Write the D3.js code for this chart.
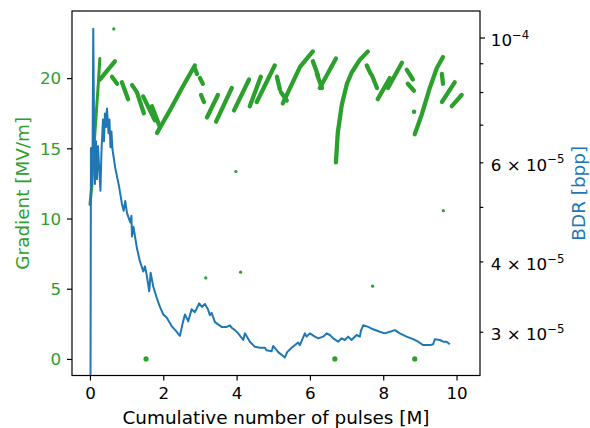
<!DOCTYPE html>
<html>
<head>
<meta charset="utf-8">
<script src="https://cdn.jsdelivr.net/npm/d3@7"></script>
<style>
  body { margin: 0; background: #fff; }
  text { font-family: "DejaVu Sans", sans-serif; }
</style>
</head>
<body>
<svg id="chart" width="590" height="428"></svg>
<script>
var gradStrokes = [
  [[0.0,11.0],[0.05,12.3],[0.09,14.4],[0.18,17.8],[0.23,19.7],[0.27,21.4]],
  [[0.27,19.9],[0.46,20.5],[0.68,21.2]],
  [[0.60,20.1],[0.74,19.6]],
  [[0.87,19.7],[1.04,18.5]],
  [[1.15,19.5],[1.28,19.0],[1.47,17.5]],
  [[1.45,18.7],[1.77,17.0]],
  [[1.69,18.0],[1.91,16.5]],
  [[1.83,16.1],[2.18,17.7],[2.51,19.3],[2.86,20.9]],
  [[2.86,20.7],[2.92,20.3]],
  [[3.00,20.0],[3.08,19.6]],
  [[3.03,18.8],[3.11,18.3]],
  [[3.19,17.2],[3.49,18.8]],
  [[3.44,16.9],[3.87,19.3]],
  [[3.93,17.7],[4.34,19.9]],
  [[4.36,18.0],[4.66,20.1]],
  [[4.55,18.3],[5.04,20.9]],
  [[5.10,20.1],[5.18,19.2]],
  [[5.21,19.0],[5.37,18.4]],
  [[5.26,18.2],[5.73,20.8],[6.08,21.9]],
  [[6.08,21.2],[6.22,20.2]],
  [[6.19,20.3],[6.33,19.3]],
  [[6.27,19.3],[6.71,21.4]],
  [[6.71,14.0],[6.76,16.1],[6.87,18.1],[7.01,19.6],[7.14,20.4],[7.36,21.3],[7.58,21.9]],
  [[7.55,20.9],[7.66,20.3]],
  [[7.69,20.2],[7.83,19.3]],
  [[7.85,18.5],[8.18,20.0]],
  [[8.13,19.3],[8.51,21.1]],
  [[8.64,20.6],[8.81,19.9]],
  [[8.67,19.6],[8.84,19.1]],
  [[8.86,16.0],[9.05,17.4],[9.27,19.3],[9.46,20.7],[9.63,21.5]],
  [[9.60,20.3],[9.63,19.6]],
  [[9.60,18.3],[9.95,19.7]],
  [[9.87,18.0],[10.14,18.8]]
];
var gradOutX = [0.65, 3.16, 3.98, 4.11, 7.71, 8.84, 9.64];
var gradOutY = [23.5, 5.77, 13.35, 6.18, 5.18, 17.6, 10.56];
var gradZeroX = [1.53, 6.68, 8.86];
var gradZeroY = [0, 0, 0];

// breakdown rate line
var bdrX = [0.014,0.027,0.055,0.071,0.090,0.117,0.136,0.164,0.191,0.218,0.259,0.286,0.314,0.355,0.382,0.409,
  0.436,0.464,0.505,0.532,0.559,0.586,0.614,0.690,0.791,0.873,0.919,0.963,1.009,1.099,1.132,1.145,1.186,
  1.282,1.364,1.454,1.500,1.546,1.617,1.655,1.726,1.819,1.909,1.999,2.092,2.228,2.345,2.454,2.536,2.591,
  2.681,2.773,2.863,2.981,3.054,3.136,3.218,3.272,3.319,3.409,3.592,3.728,3.818,3.865,3.954,4.044,4.181,
  4.227,4.363,4.500,4.636,4.772,4.819,4.955,4.999,5.135,5.318,5.380,5.500,5.680,5.727,5.863,5.909,5.999,
  6.136,6.226,6.362,6.455,6.545,6.635,6.771,6.864,6.954,7.044,7.137,7.273,7.363,7.390,7.453,7.589,7.726,
  7.908,8.045,8.181,8.317,8.454,8.637,8.817,8.953,9.089,9.272,9.362,9.408,9.545,9.635,9.727,9.817];
var bdrY = [2.3e-5,6.36e-5,5.45e-5,6.28e-5,1.036e-4,6.28e-5,5.49e-5,6.54e-5,5.60e-5,6.41e-5,5.74e-5,5.34e-5,6.28e-5,
  7.15e-5,6.54e-5,7.33e-5,6.93e-5,7.48e-5,6.76e-5,7.15e-5,6.38e-5,6.81e-5,6.33e-5,5.86e-5,5.45e-5,5.06e-5,
  4.92e-5,5.12e-5,4.88e-5,4.69e-5,4.82e-5,4.43e-5,4.61e-5,4.22e-5,4.00e-5,3.84e-5,3.92e-5,3.79e-5,3.54e-5,
  3.82e-5,3.61e-5,3.45e-5,3.32e-5,3.22e-5,3.18e-5,3.07e-5,3.01e-5,2.95e-5,3.12e-5,3.22e-5,3.13e-5,3.29e-5,
  3.25e-5,3.37e-5,3.32e-5,3.36e-5,3.29e-5,3.21e-5,3.24e-5,3.12e-5,3.06e-5,3.06e-5,3.08e-5,3.05e-5,3.02e-5,
  2.98e-5,2.90e-5,2.98e-5,2.88e-5,2.82e-5,2.81e-5,2.81e-5,2.78e-5,2.77e-5,2.83e-5,2.76e-5,2.70e-5,2.76e-5,
  2.81e-5,2.87e-5,2.84e-5,2.98e-5,2.94e-5,2.98e-5,2.94e-5,2.92e-5,2.94e-5,2.98e-5,2.96e-5,2.92e-5,2.88e-5,
  2.92e-5,2.90e-5,2.94e-5,2.90e-5,2.96e-5,2.94e-5,3.01e-5,3.08e-5,3.06e-5,3.03e-5,3.00e-5,2.98e-5,3.00e-5,
  3.02e-5,2.98e-5,2.94e-5,2.91e-5,2.88e-5,2.84e-5,2.84e-5,2.85e-5,2.91e-5,2.90e-5,2.88e-5,2.88e-5,2.85e-5];

var xTicks = [0, 2, 4, 6, 8, 10];
var gradTicks = [0, 5, 10, 15, 20];
var bdrTicks = [3e-5, 4e-5, 5e-5, 6e-5, 7e-5, 8e-5, 9e-5, 1e-4];
var bdrTickBase = ["3 \u00d7 10", "4 \u00d7 10", "", "6 \u00d7 10", "", "", "", "10"];
var bdrTickExp = ["\u22125", "\u22125", "", "\u22125", "", "", "", "\u22124"];

var green = "#2ca02c", blue = "#1f77b4";
var margin = {top: 11, left: 72};
var innerWidth = 408, innerHeight = 364.5;
var fs = 16.7, labelFs = 18.4;

var xScale = d3.scaleLinear().domain([-0.49, 10.64]).range([0, innerWidth]);
var yScale = d3.scaleLinear().domain([-1.18, 24.78]).range([innerHeight, 0]);
var y2Scale = d3.scaleLog().domain([2.508e-5, 1.1145e-4]).range([innerHeight, 0]);

var svg = d3.select("#chart");
var g = svg.append("g").attr("transform", "translate(" + margin.left + "," + margin.top + ")");

g.append("clipPath").attr("id", "clip")
  .append("rect").attr("width", innerWidth).attr("height", innerHeight);

// green scatter
var plot = g.append("g").attr("clip-path", "url(#clip)");
var strokeLine = d3.line().x(function(d){ return xScale(d[0]); }).y(function(d){ return yScale(d[1]); });
plot.selectAll(".run").data(gradStrokes).enter()
  .append("path")
    .attr("class", "run")
    .attr("d", strokeLine)
    .attr("fill", "none")
    .attr("stroke", green)
    .attr("stroke-width", function(d, i){ return i === 0 ? 3 : 4.3; })
    .attr("stroke-linecap", "round")
    .attr("stroke-linejoin", "round");

plot.selectAll(".out").data(gradOutX).enter()
  .append("circle")
    .attr("cx", function(d){ return xScale(d); })
    .attr("cy", function(d, i){ return yScale(gradOutY[i]); })
    .attr("r", function(d, i){ return i === 5 ? 2.2 : 1.6; })
    .attr("fill", green);

plot.selectAll(".zero").data(gradZeroX).enter()
  .append("circle")
    .attr("cx", function(d){ return xScale(d); })
    .attr("cy", function(d, i){ return yScale(gradZeroY[i]); })
    .attr("r", 2.6)
    .attr("fill", green);

// blue BDR line on twin axis
var bdrLine = d3.line().x(function(d){ return xScale(d); }).y(function(d, i){ return y2Scale(bdrY[i]); });
plot.append("path")
  .datum(bdrX)
  .attr("d", bdrLine)
  .attr("fill", "none")
  .attr("stroke", blue)
  .attr("stroke-width", 2)
  .attr("stroke-linejoin", "round");

// axes
var xAxis = g.append("g")
  .attr("transform", "translate(0," + innerHeight + ")")
  .call(d3.axisBottom(xScale).tickValues(xTicks).tickSize(5).tickPadding(6.6).tickFormat(d3.format("d")));
var yAxis = g.append("g")
  .call(d3.axisLeft(yScale).tickValues(gradTicks).tickSize(5).tickPadding(5.8));
var y2Axis = g.append("g")
  .attr("transform", "translate(" + innerWidth + ",0)")
  .call(d3.axisRight(y2Scale).tickValues(bdrTicks).tickSize(3.3).tickFormat(function(){ return ""; }));

[xAxis, yAxis, y2Axis].forEach(function(a){
  a.attr("font-size", fs).attr("font-family", "DejaVu Sans");
  a.select(".domain").remove();
  a.selectAll(".tick line").attr("stroke", "#000").attr("stroke-width", 1.2);
});
xAxis.selectAll(".tick text").attr("fill", "#000");
yAxis.selectAll(".tick text").attr("fill", green).attr("dy", "0.35em");

y2Axis.selectAll(".tick").each(function(d, i){
  var t = d3.select(this);
  if (d === 1e-4) t.select("line").attr("x2", 5);
  t.select("text").remove();
  if (!bdrTickBase[i]) return;
  var txt = t.append("text")
    .attr("x", 10.8)
    .attr("dy", 7.8)
    .attr("fill", "#000")
    .attr("text-anchor", "start");
  txt.append("tspan").text(bdrTickBase[i]);
  txt.append("tspan").attr("font-size", fs * 0.7).attr("dy", -7.2).text(bdrTickExp[i]);
});

// frame
g.append("rect")
  .attr("width", innerWidth).attr("height", innerHeight)
  .attr("fill", "none").attr("stroke", "#000").attr("stroke-width", 1.2);

// labels
svg.append("text")
  .attr("x", margin.left + innerWidth / 2).attr("y", 423.5)
  .attr("text-anchor", "middle").attr("font-size", labelFs).attr("fill", "#000")
  .text("Cumulative number of pulses [M]");
svg.append("text")
  .attr("transform", "translate(28.5," + (margin.top + innerHeight / 2) + ") rotate(-90)")
  .attr("text-anchor", "middle").attr("font-size", labelFs).attr("fill", green)
  .text("Gradient [MV/m]");
svg.append("text")
  .attr("transform", "translate(585," + (margin.top + innerHeight / 2) + ") rotate(-90)")
  .attr("text-anchor", "middle").attr("font-size", labelFs).attr("fill", blue)
  .text("BDR [bpp]");
</script>
</body>
</html>
